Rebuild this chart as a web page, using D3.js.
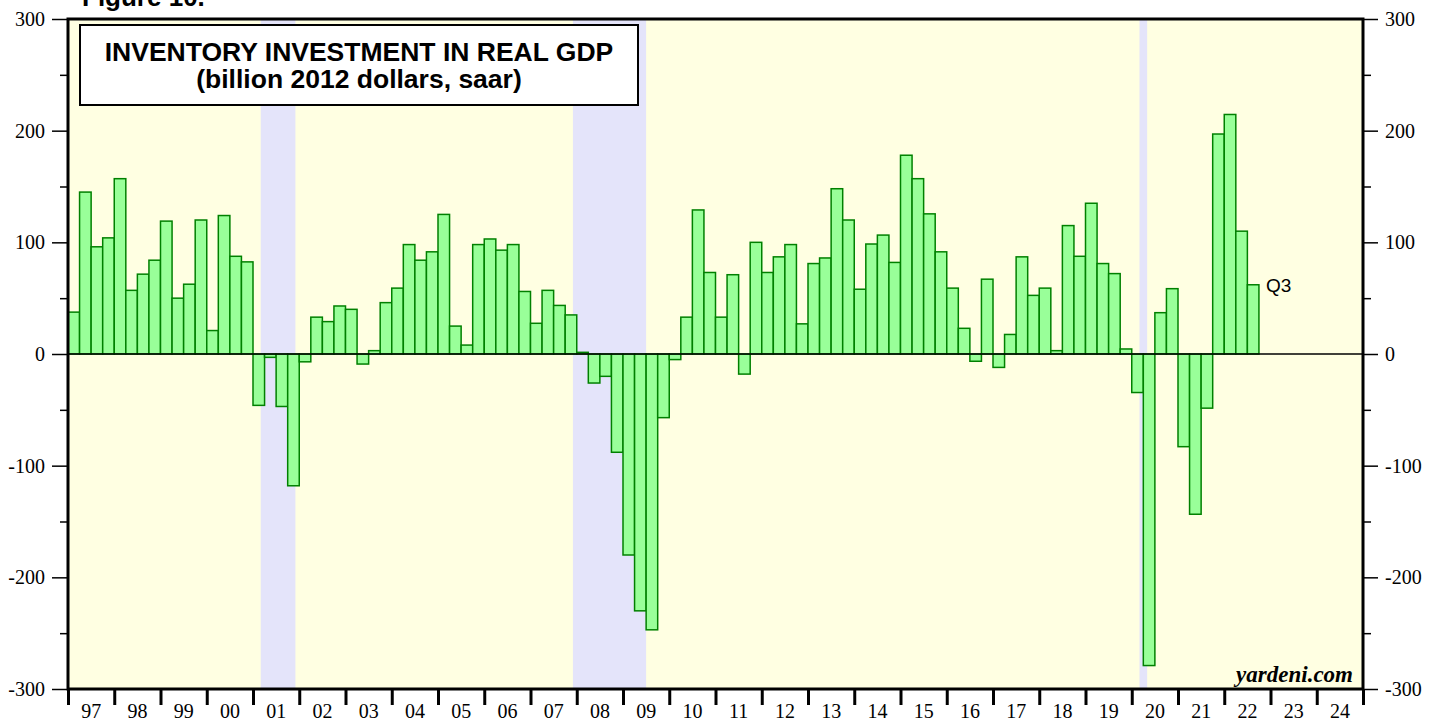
<!DOCTYPE html>
<html>
<head>
<meta charset="utf-8">
<script src="https://cdn.jsdelivr.net/npm/d3@7"></script>
<style>
  html, body { margin: 0; padding: 0; background: #fff; }
  svg { display: block; }
</style>
</head>
<body>
<svg id="chart"></svg>
<script>
// quarterly inventory investment, 1997Q1 .. 2022Q3
const startYear = 1997;
const values = [
  37.5, 145, 96, 104,
  157, 57, 71.5, 84,
  119, 50, 62.5, 120,
  21, 124, 87.5, 82.5,
  -46, -3, -47, -118,
  -7, 33, 29, 43,
  40, -9, 3, 46,
  59, 98, 84, 91.5,
  125, 25, 8, 98,
  103, 93, 98, 56,
  27.5, 57, 43.5, 35,
  1.5, -26, -20, -88,
  -180, -230, -247, -57,
  -5, 33, 129, 73,
  33, 71, -18, 100,
  73, 87, 98, 27,
  81, 86, 148, 120,
  58, 98.5, 106.5, 82,
  178, 157, 125.5, 91.5,
  59, 23, -6.5, 67,
  -12, 17.5, 87, 52.5,
  59, 3, 115, 87.5,
  135, 81, 72, 4.5,
  -34.5, -279, 37, 58.5,
  -83, -143.5, -48.5, 197,
  214.5, 110, 62
];
// recessions as decimal years
const recessions = [[2001.167, 2001.917], [2007.917, 2009.5], [2020.167, 2020.333]];
const yearLabels = ["97","98","99","00","01","02","03","04","05","06","07","08","09","10","11","12","13","14","15","16","17","18","19","20","21","22","23","24"];
const yMajor = [-300, -200, -100, 0, 100, 200, 300];
const yMinor = [-250, -150, -50, 50, 150, 250];

function main() {
    const width = 1441;
    const height = 721;
    const left = 68, right = 1363, top = 19, bottom = 689;

    const svg = d3.select("#chart")
        .attr("width", width)
        .attr("height", height);

    const x = d3.scaleLinear().domain([1997, 2025]).range([left, right]);
    const y = d3.scaleLinear().domain([-300, 300]).range([bottom, top]);

    // plot background
    svg.append("rect")
        .attr("x", left).attr("y", top)
        .attr("width", right - left).attr("height", bottom - top)
        .attr("fill", "#ffffe2");

    // recession bands
    svg.append("g")
        .selectAll("rect")
        .data(recessions)
        .join("rect")
        .attr("x", d => x(d[0]))
        .attr("y", top)
        .attr("width", d => x(d[1]) - x(d[0]))
        .attr("height", bottom - top)
        .attr("fill", "#e4e4fa");

    // bars
    svg.append("g")
        .selectAll("rect")
        .data(values)
        .join("rect")
        .attr("x", (d, i) => x(startYear + i / 4))
        .attr("y", d => y(Math.max(0, d)))
        .attr("width", x(startYear + 0.25) - x(startYear))
        .attr("height", d => Math.abs(y(d) - y(0)))
        .attr("fill", "#99ff99")
        .attr("stroke", "#008000")
        .attr("stroke-width", 1.5);

    // zero line
    svg.append("line")
        .attr("x1", left).attr("x2", right)
        .attr("y1", y(0)).attr("y2", y(0))
        .attr("stroke", "#000")
        .attr("stroke-width", 1.5);

    // value axes, plain hyphen for negatives
    const axisFont = "'Liberation Serif', 'Times New Roman', serif";
    const fmt = d => String(d);
    svg.append("g")
        .attr("transform", `translate(${left},0)`)
        .call(d3.axisLeft(y).tickValues(yMajor).tickSize(16).tickPadding(7).tickFormat(fmt));
    svg.append("g")
        .attr("transform", `translate(${left},0)`)
        .call(d3.axisLeft(y).tickValues(yMinor).tickSize(8).tickFormat(""));

    svg.append("g")
        .attr("transform", `translate(${right},0)`)
        .call(d3.axisRight(y).tickValues(yMajor).tickSize(15).tickPadding(7).tickFormat(fmt));
    svg.append("g")
        .attr("transform", `translate(${right},0)`)
        .call(d3.axisRight(y).tickValues(yMinor).tickSize(8).tickFormat(""));

    svg.selectAll(".domain").remove();
    svg.selectAll(".tick line").attr("stroke", "#000").attr("stroke-width", 1.5);
    svg.selectAll(".tick text")
        .attr("fill", "#000")
        .attr("font-size", 20)
        .style("font-family", axisFont)
        .style("font-size", "20px");

    // bottom axis: year boundaries
    const yearTicks = d3.range(1997, 2026);
    const bottomAxis = svg.append("g")
        .attr("transform", `translate(0,${bottom})`)
        .call(d3.axisBottom(x).tickValues(yearTicks).tickSize(16).tickFormat(""));
    bottomAxis.select(".domain").remove();
    bottomAxis.selectAll(".tick line").attr("stroke", "#000").attr("stroke-width", 3);

    svg.append("g")
        .selectAll("text")
        .data(yearLabels)
        .join("text")
        .attr("x", (d, i) => x(1997 + i + 0.5))
        .attr("y", 718)
        .attr("text-anchor", "middle")
        .style("font-family", axisFont)
        .style("font-size", "20px")
        .text(d => d);

    // frame
    svg.append("rect")
        .attr("x", left).attr("y", top)
        .attr("width", right - left).attr("height", bottom - top)
        .attr("fill", "none")
        .attr("stroke", "#000")
        .attr("stroke-width", 3);

    // title box
    const sans = "'Liberation Sans', Arial, sans-serif";
    svg.append("rect")
        .attr("x", 80).attr("y", 25)
        .attr("width", 558).attr("height", 80)
        .attr("fill", "#fff")
        .attr("stroke", "#000")
        .attr("stroke-width", 2);
    svg.append("text")
        .attr("x", 359).attr("y", 61)
        .attr("text-anchor", "middle")
        .style("font-family", sans).style("font-weight", "bold").style("font-size", "26.5px")
        .text("INVENTORY INVESTMENT IN REAL GDP");
    svg.append("text")
        .attr("x", 359).attr("y", 88)
        .attr("text-anchor", "middle")
        .style("font-family", sans).style("font-weight", "bold").style("font-size", "26.5px")
        .text("(billion 2012 dollars, saar)");

    // figure caption, cut off at the top as in the source
    svg.append("text")
        .attr("x", 82).attr("y", 6)
        .style("font-family", sans).style("font-weight", "bold").style("font-size", "26px")
        .text("Figure 10.");

    // last quarter label
    const last = values.length - 1;
    svg.append("text")
        .attr("x", x(startYear + (last + 1) / 4) + 7)
        .attr("y", y(values[last]) + 7)
        .style("font-family", sans).style("font-size", "19px")
        .text("Q3");

    svg.append("text")
        .attr("x", 1353).attr("y", 682)
        .attr("text-anchor", "end")
        .style("font-family", axisFont).style("font-weight", "bold")
        .style("font-style", "italic").style("font-size", "23px")
        .text("yardeni.com");
}

main();
</script>
</body>
</html>
